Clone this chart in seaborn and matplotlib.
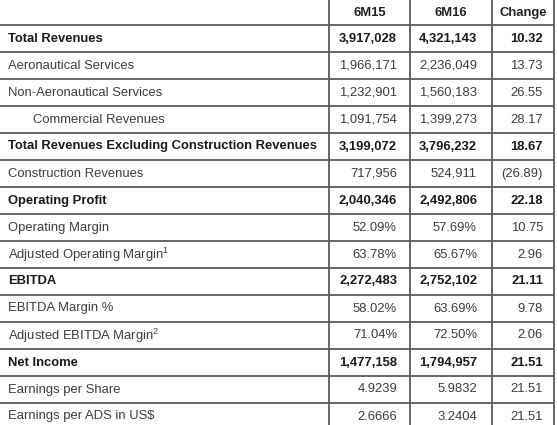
import matplotlib
matplotlib.use("Agg")
import matplotlib.pyplot as plt
import seaborn as sns

sns.set_theme(style="white")
plt.rcParams['font.family'] = ['Liberation Sans', 'DejaVu Sans']
plt.rcParams['mathtext.fontset'] = 'custom'
plt.rcParams['mathtext.rm'] = 'Liberation Sans'

headers = ["6M15", "6M16", "Change"]
labels = ["Total Revenues", "Aeronautical Services", "Non-Aeronautical Services",
          "Commercial Revenues", "Total Revenues Excluding Construction Revenues",
          "Construction Revenues", "Operating Profit", "Operating Margin",
          r"Adjusted Operating Margin$^{\mathregular{1}}$", "EBITDA", "EBITDA Margin %",
          r"Adjusted EBITDA Margin$^{\mathregular{2}}$", "Net Income",
          "Earnings per Share", "Earnings per ADS in US$"]
col_6m15 = ["3,917,028", "1,966,171", "1,232,901", "1,091,754", "3,199,072", "717,956",
            "2,040,346", "52.09%", "63.78%", "2,272,483", "58.02%", "71.04%",
            "1,477,158", "4.9239", "2.6666"]
col_6m16 = ["4,321,143", "2,236,049", "1,560,183", "1,399,273", "3,796,232", "524,911",
            "2,492,806", "57.69%", "65.67%", "2,752,102", "63.69%", "72.50%",
            "1,794,957", "5.9832", "3.2404"]
col_change = ["10.32", "13.73", "26.55", "28.17", "18.67", "(26.89)", "22.18", "10.75",
              "2.96", "21.11", "9.78", "2.06", "21.51", "21.51", "21.51"]
bold_rows = [True, False, False, False, True, False, True, False, False, True, False,
             False, True, False, False]
indent_rows = [False, False, False, True, False, False, False, False, False, False,
               False, False, False, False, False]

W, H = 557, 425
fig = plt.figure(figsize=(W / 100, H / 100), dpi=100)
ax = fig.add_axes([0, 0, 1, 1])
ax.set_xlim(0, W)
ax.set_ylim(H, 0)
ax.axis("off")

header_h = 24.5
row_h = 27.0
col_x = [0, 329, 410, 492, 554]
right_pads = [13, 15, 11]
line_col = "#5a5a5a"
lw = 1.3

n = len(labels)
for i in range(n + 1):
    y = header_h + i * row_h
    ax.plot([0, col_x[-1]], [y, y], color=line_col, lw=lw, solid_capstyle="butt")
bottom = header_h + n * row_h
for x in col_x[1:]:
    ax.plot([x, x], [0, bottom], color=line_col, lw=lw, solid_capstyle="butt")

fs = 9.4
for j, h in enumerate(headers):
    cx = (col_x[j + 1] + col_x[j + 2]) / 2
    ax.text(cx, header_h / 2 + 1, h, ha="center", va="center", fontsize=fs,
            fontweight="bold", color="#222222")

cols = [col_6m15, col_6m16, col_change]
for i in range(n):
    yc = header_h + i * row_h + row_h / 2 + 0.5
    b = bold_rows[i]
    weight = "bold" if b else "normal"
    color = "#1a1a1a" if b else "#3d3d3d"
    x0 = 33 if indent_rows[i] else 8
    ax.text(x0, yc, labels[i], ha="left", va="center", fontsize=fs,
            fontweight=weight, color=color)
    for j, c in enumerate(cols):
        ax.text(col_x[j + 2] - right_pads[j], yc, c[i], ha="right", va="center",
                fontsize=fs, fontweight=weight, color=color)

fig.savefig("out.png", dpi=100)
